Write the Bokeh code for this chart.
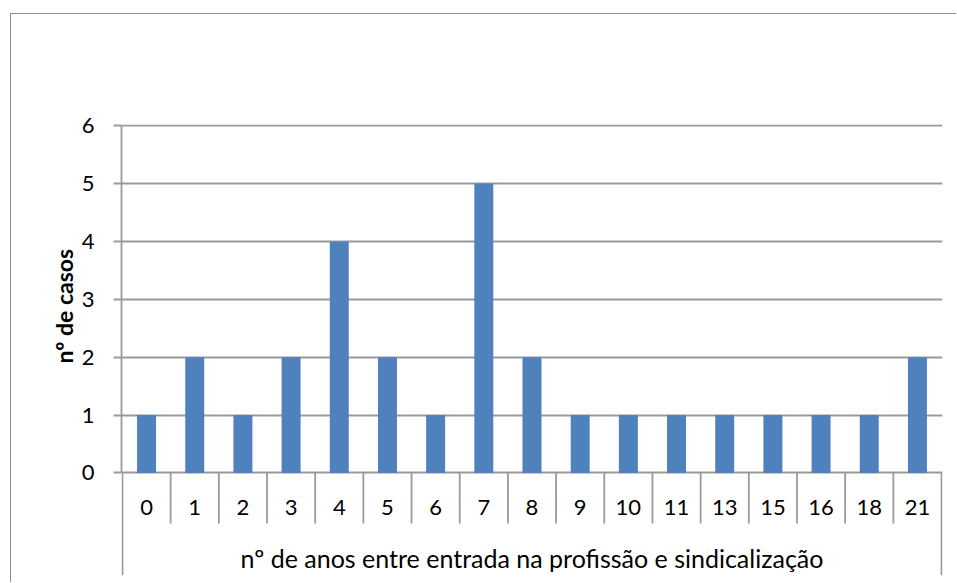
from bokeh.plotting import figure
from bokeh.models import FixedTicker, Range1d, ColumnDataSource, Title
from bokeh.core.properties import value
from bokeh.embed import file_html
from bokeh.resources import INLINE

# ---- data ----
categories = ["0", "1", "2", "3", "4", "5", "6", "7", "8", "9",
              "10", "11", "13", "15", "16", "18", "21"]
counts = [1, 2, 1, 2, 4, 2, 1, 5, 2, 1, 1, 1, 1, 1, 1, 1, 2]
y_ticks = [0, 1, 2, 3, 4, 5, 6]
x_title = "nº de anos entre entrada na profissão e sindicalização"
y_title = "nº de casos"

# ---- style ----
FONT = "Lato"
GRID = "#9a9a9a"
BORDER = "#8c8c8c"
BAR = "#4F81BD"
Y_MIN = -1.771         # extra room below 0 for the two-level category axis
Y_MAX = 6.02
SEP_DEPTH = -0.872     # depth of category separators
CAT_BASE = -0.596      # baseline of category labels
TITLE_BASE = -1.477    # baseline of the x-axis title

n = len(categories)
centers = [i + 0.5 for i in range(n)]
inner_bounds = list(range(1, n))

p = figure(width=946, height=569, output_backend="svg", toolbar_location=None,
           x_range=Range1d(-0.02, n + 0.02), y_range=Range1d(Y_MIN, Y_MAX),
           x_axis_location=None, y_axis_location="left",
           min_border_left=110, min_border_right=15, min_border_top=110,
           min_border_bottom=8)
p.styles = {"margin-left": "10px", "margin-top": "13px",
            "border-left": f"1px solid {BORDER}",
            "border-top": f"1px solid {BORDER}"}
p.outline_line_color = None
p.background_fill_color = "white"
p.border_fill_color = "white"
p.xgrid.visible = False

ticker = FixedTicker(ticks=y_ticks)
p.yaxis.ticker = ticker
p.ygrid.ticker = ticker
p.ygrid.grid_line_color = GRID
p.ygrid.grid_line_width = 1.8

ax = p.yaxis[0]
ax.bounds = (y_ticks[0], y_ticks[-1])
ax.axis_line_color = GRID
ax.axis_line_width = 1.8
ax.major_tick_line_color = GRID
ax.major_tick_line_width = 1.8
ax.major_tick_out = 8
ax.major_tick_in = 0
ax.minor_tick_line_color = None
ax.major_label_standoff = 19
ax.major_label_text_font = FONT
ax.major_label_text_font_size = "22px"
ax.major_label_text_color = "black"

# y-axis title, placed alongside the 0..6 value range
p.add_layout(Title(text=y_title, align="left", offset=212, standoff=2,
                   text_font=FONT, text_font_style="bold",
                   text_font_size="23px", text_color="black"), "left")

# bars
src = ColumnDataSource(dict(x=centers, top=counts, cat=categories))
p.vbar(x="x", top="top", bottom=0, width=0.394, source=src,
       fill_color=BAR, line_color=None)

# category separators and the box of the outer axis level
p.segment(x0=inner_bounds, y0=[0] * len(inner_bounds), x1=inner_bounds,
          y1=[SEP_DEPTH] * len(inner_bounds), line_color=GRID, line_width=1.8)
p.segment(x0=[0, n], y0=[0, 0], x1=[0, n], y1=[Y_MIN, Y_MIN],
          line_color=GRID, line_width=1.8)

# category labels
p.text(x="x", y=CAT_BASE, text="cat", source=src, text_align="center",
       text_baseline="alphabetic", text_font=value(FONT),
       text_font_size="22px", text_color="black")

# x-axis title
p.text(x=[n / 2], y=[TITLE_BASE], text=[x_title], text_align="center",
       text_baseline="alphabetic", text_font=value(FONT),
       text_font_size="25px", text_color="black")

open("out.html", "w").write(file_html(p, INLINE))
